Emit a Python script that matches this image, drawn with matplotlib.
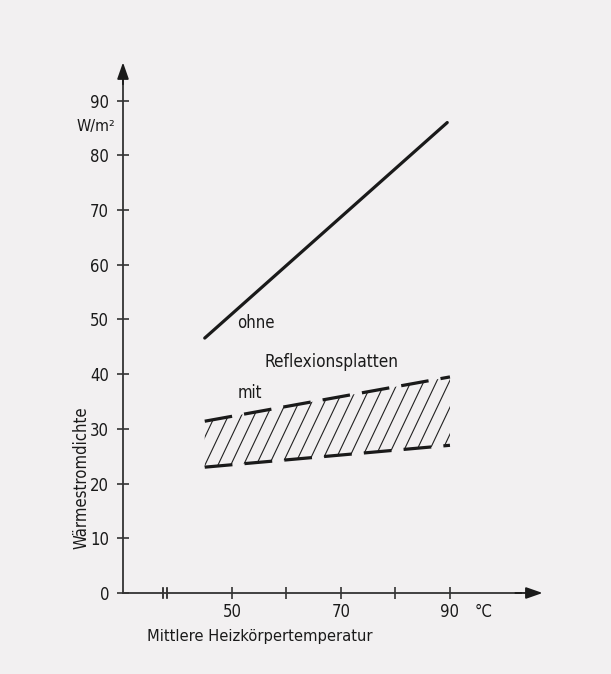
import matplotlib
matplotlib.use('Agg')

import matplotlib.pyplot as plt
import numpy as np

# data
temp_ohne = [45, 89.5]
flux_ohne = [46.6, 86.0]

temp_mit = [45, 90]
flux_mit_upper = [31.4, 39.5]
flux_mit_lower = [23.0, 27.0]

xticks = [50, 60, 70, 80, 90]
xticklabels = ['50', '', '70', '', '90']
yticks = [0, 10, 20, 30, 40, 50, 60, 70, 80, 90]

plt.rcParams['font.family'] = ['DejaVu Sans']

bg = '#f2f0f1'
ink = '#1a1a1a'
font = dict(fontstretch='condensed', color=ink)

fig = plt.figure(figsize=(6.11, 6.74), dpi=100, facecolor=bg)
ax = fig.add_axes([0.2013, 0.1202, 0.7046, 0.8035])
ax.set_facecolor(bg)
ax.set_xlim(30, 109)
ax.set_ylim(0, 99)

for s in ['top', 'right']:
    ax.spines[s].set_visible(False)
for s in ['left', 'bottom']:
    ax.spines[s].set_linewidth(1.3)
    ax.spines[s].set_color('#333333')
ax.spines['left'].set_bounds(0, 94)
ax.spines['bottom'].set_bounds(30, 103)

# arrow heads on the axes
head = dict(arrowstyle='-|>,head_length=1.0,head_width=0.35', color=ink, lw=1.3,
            shrinkA=0, shrinkB=0)
ax.annotate('', xy=(107, 0), xytext=(102, 0), arrowprops=head, annotation_clip=False)
ax.annotate('', xy=(30, 97), xytext=(30, 93), arrowprops=head, annotation_clip=False)

ax.set_xticks(xticks)
ax.set_xticklabels(xticklabels)
ax.set_yticks(yticks)
ax.tick_params(direction='inout', length=8, width=1.2, color='#333333',
               labelsize=12, labelcolor=ink)
ax.tick_params(axis='x', pad=3)
ax.tick_params(axis='y', pad=6)
for lab in ax.get_xticklabels() + ax.get_yticklabels():
    lab.set_fontstretch('condensed')

# axis break
brk = 37.3
for dx in [0, 0.7]:
    ax.plot([brk + dx, brk + dx], [-1.0, 1.0], color=ink, lw=1.2, clip_on=False)

# line without reflection plates
ax.plot(temp_ohne, flux_ohne, color=ink, lw=2.3, solid_capstyle='round')

# hatched band with reflection plates: steep hatch lines clipped to the band
band = ax.fill_between(temp_mit, flux_mit_lower, flux_mit_upper, facecolor='none',
                       edgecolor='none', linewidth=0)
slope = 2.1
step = 2.45
starts = np.arange(temp_mit[0] - 6, temp_mit[1] + step, step)
for x0 in starts:
    xs = np.array([x0, x0 + 25 / slope])
    ys = np.interp(x0, temp_mit, flux_mit_lower) - 2 + slope * (xs - x0)
    ln, = ax.plot(xs, ys, color='#222222', lw=0.8)
    ln.set_clip_path(band.get_paths()[0], ax.transData)

dash = (0, (8.7, 3.8))
ax.plot(temp_mit, flux_mit_upper, color=ink, lw=2.3, linestyle=dash)
ax.plot(temp_mit, flux_mit_lower, color=ink, lw=2.3, linestyle=dash)

ax.text(50.9, 49.4, 'ohne', fontsize=12, ha='left', va='center', **font)
ax.text(55.9, 42.2, 'Reflexionsplatten', fontsize=12.3, ha='left', va='center', **font)
ax.text(51.1, 36.6, 'mit', fontsize=12, ha='left', va='center', **font)

ax.text(25.0, 85.2, 'W/m²', fontsize=11.5, ha='center', va='center', **font)
ax.text(96.2, -3.4, '°C', fontsize=12, ha='center', va='center', **font)
ax.text(22.4, 21, 'Wärmestromdichte', fontsize=12, rotation=90,
        ha='center', va='center', **font)
ax.text(34.4, -8, 'Mittlere Heizkörpertemperatur', fontsize=11.8,
        ha='left', va='center', **font)

fig.savefig('out.png', dpi=100, facecolor=bg)
